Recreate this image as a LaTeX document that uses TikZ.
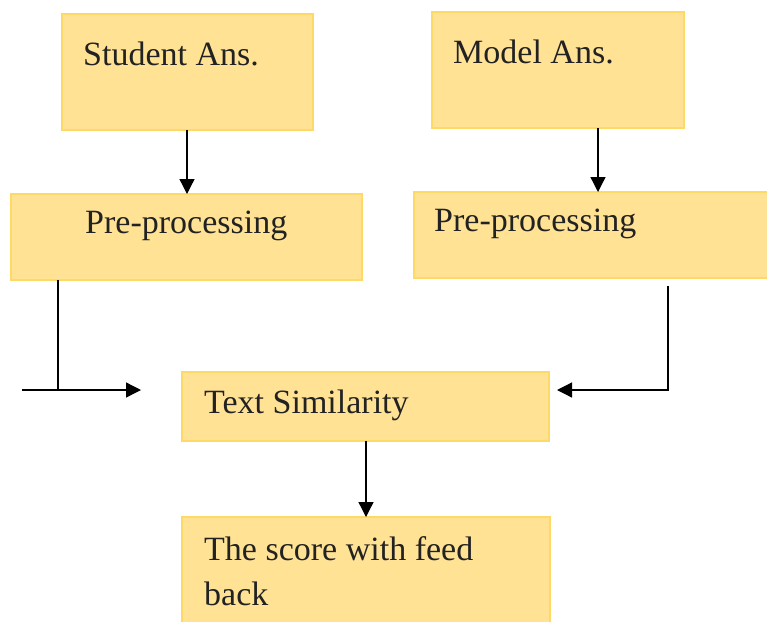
\documentclass[tikz,border=0pt]{standalone}
\usepackage{fontspec}
\setmainfont{Liberation Serif}
\usetikzlibrary{arrows.meta}
\definecolor{boxfill}{RGB}{255,226,148}
\definecolor{boxline}{RGB}{255,217,102}
\definecolor{txt}{RGB}{34,34,34}
\begin{document}
\begin{tikzpicture}[x=1pt,y=-1pt,
  box/.style={draw=boxline,line width=1.5pt,fill=boxfill},
  lbl/.style={anchor=base west,inner sep=0pt,text=txt,font=\fontsize{34}{45}\selectfont},
  conn/.style={line width=1.3pt,-{Triangle[length=15pt,width=15pt]}}]
\useasboundingbox (0,0) rectangle (767,621);
% boxes
\path[box] (62,14) rectangle (313,130);
\path[box] (432,12) rectangle (684,128);
\path[box] (11,194) rectangle (362,280);
\path[box] (414,192) rectangle (770,278);
\path[box] (182,372) rectangle (549,441);
\path[box] (182,517) rectangle (550,630);
% named anchors
\coordinate (saB) at (187,130);
\coordinate (ppLT) at (187,194);
\coordinate (maB) at (598,128);
\coordinate (ppRT) at (598,192);
\coordinate (ppLB) at (58,280);
\coordinate (ppRB) at (668,286);
\coordinate (jL) at (58,390);
\coordinate (jR) at (668,390);
\coordinate (startL) at (22,390);
\coordinate (tipL) at (141,390);
\coordinate (tipR) at (557,390);
\coordinate (tsB) at (366,441);
\coordinate (scT) at (366,517);
% labels
\node[lbl] (sa) at (83,65) {Student Ans.};
\node[lbl] (ma) at (453,63) {Model Ans.};
\node[lbl] (ppl) at (85,233) {Pre-processing};
\node[lbl] (ppr) at (434,231) {Pre-processing};
\node[lbl] (ts) at (204,413) {Text Similarity};
\node[lbl] (sc1) at (204,560) {The score with feed};
\node[lbl] (sc2) at (204,605) {back};
% connectors
\draw[conn] (saB) -- (ppLT);
\draw[conn] (maB) -- (ppRT);
\draw[line width=1.3pt] (ppLB) -- (jL);
\draw[conn] (startL) -- (tipL);
\draw[conn] (ppRB) -- (jR) -- (tipR);
\draw[conn] (tsB) -- (scT);
\end{tikzpicture}
\end{document}
